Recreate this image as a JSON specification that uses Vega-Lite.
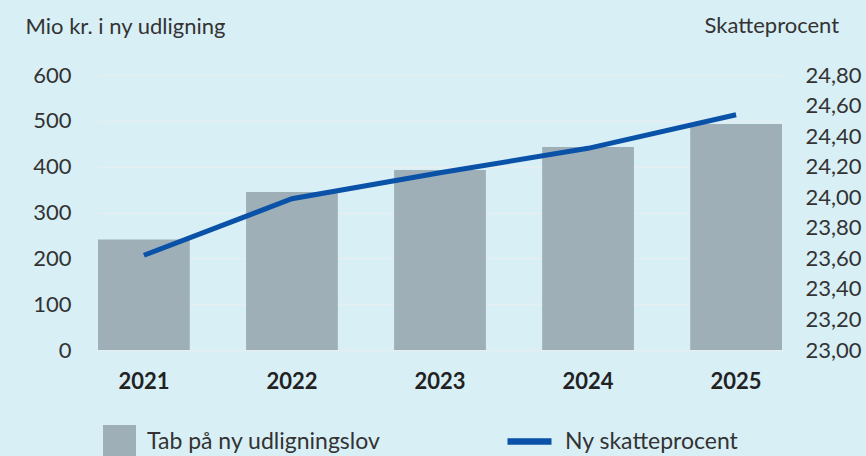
{
  "$schema": "https://vega.github.io/schema/vega-lite/v6.json",
  "width": 684,
  "height": 275,
  "autosize": "none",
  "padding": {"left": 98, "top": 75, "right": 84, "bottom": 106},
  "background": "#d9eff6",
  "config": {
    "view": {"stroke": null},
    "font": "Lato",
    "axis": {"domain": false, "ticks": false, "labelFont": "Lato", "titleFont": "Lato", "labelColor": "#333333", "titleColor": "#333333", "titleFontWeight": "normal"},
    "legend": {"labelFont": "Lato", "labelFontSize": 23, "labelColor": "#333333", "labelLimit": 400}
  },
  "data": {
    "values": [
      {"year": "2021", "tab": 241, "pct": 23.62},
      {"year": "2022", "tab": 345, "pct": 23.99},
      {"year": "2023", "tab": 393, "pct": 24.16},
      {"year": "2024", "tab": 443, "pct": 24.32},
      {"year": "2025", "tab": 493, "pct": 24.54}
    ]
  },
  "encoding": {
    "x": {
      "field": "year",
      "type": "ordinal",
      "scale": {"paddingInner": 0.38, "paddingOuter": 0},
      "axis": {"title": null, "labelAngle": 0, "labelFontSize": 22, "labelFontWeight": "bold", "labelColor": "#222222", "labelPadding": 21, "grid": false}
    }
  },
  "layer": [
    {
      "mark": {"type": "bar"},
      "encoding": {
        "y": {
          "field": "tab",
          "type": "quantitative",
          "scale": {"domain": [0, 600], "nice": false},
          "axis": {
            "values": [0, 100, 200, 300, 400, 500, 600],
            "title": "Mio kr. i ny udligning",
            "titleAngle": 0,
            "titleAlign": "left",
            "titleBaseline": "alphabetic",
            "titleX": -73,
            "titleY": -42,
            "titleFontSize": 22,
            "labelFontSize": 22,
            "labelPadding": 27,
            "grid": true,
            "gridColor": "#e6eef1",
            "gridWidth": 1.5
          }
        },
        "fill": {
          "datum": "Tab på ny udligningslov",
          "scale": {"range": ["#9fafb8"]},
          "legend": {
            "title": null,
            "orient": "none",
            "legendX": 5,
            "legendY": 350,
            "symbolType": "square",
            "symbolSize": 1089,
            "symbolStrokeWidth": 0,
            "symbolOpacity": 1,
            "labelOffset": 11
          }
        }
      }
    },
    {
      "mark": {"type": "line", "strokeWidth": 5},
      "encoding": {
        "y": {
          "field": "pct",
          "type": "quantitative",
          "scale": {"domain": [23, 24.8], "nice": false, "zero": false},
          "axis": {
            "orient": "right",
            "values": [23, 23.2, 23.4, 23.6, 23.8, 24, 24.2, 24.4, 24.6, 24.8],
            "labelExpr": "replace(format(datum.value, '.2f'), '.', ',')",
            "title": "Skatteprocent",
            "titleAngle": 0,
            "titleAlign": "left",
            "titleBaseline": "alphabetic",
            "titleX": -78,
            "titleY": -43,
            "titleFontSize": 22,
            "labelFontSize": 22,
            "labelPadding": 23,
            "grid": false
          }
        },
        "stroke": {
          "datum": "Ny skatteprocent",
          "scale": {"range": ["#0a52a8"]},
          "legend": {
            "title": null,
            "orient": "none",
            "legendX": 406,
            "legendY": 341,
            "symbolType": "stroke",
            "symbolSize": 1936,
            "symbolStrokeWidth": 6.5,
            "labelOffset": 10
          }
        }
      }
    }
  ],
  "resolve": {"scale": {"y": "independent"}}
}
